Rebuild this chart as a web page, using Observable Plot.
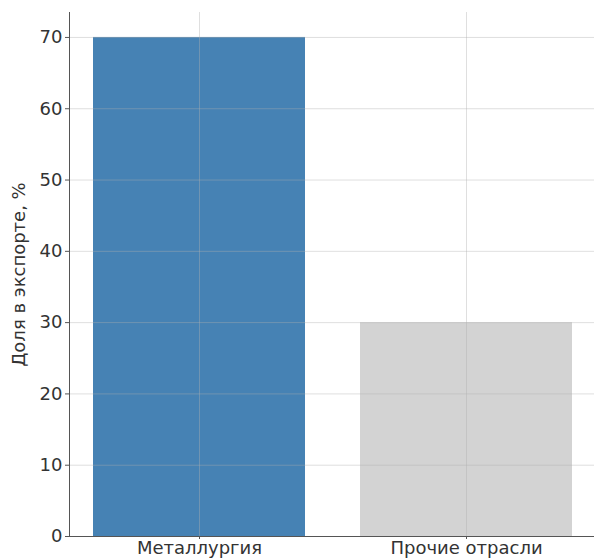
<!DOCTYPE html>
<html>
<head>
<meta charset="utf-8">
<script src="https://cdn.jsdelivr.net/npm/d3@7"></script>
<script src="https://cdn.jsdelivr.net/npm/@observablehq/plot@0.6"></script>
<style>
  html, body { margin: 0; padding: 0; background: #fff; }
  svg { display: block; }
</style>
</head>
<body>
<div id="chart"></div>
<script>
const categories = ["Металлургия", "Прочие отрасли"];
const shares = [70, 30];
const colors = ["#4682b4", "#d3d3d3"];
const yTicks = [0, 10, 20, 30, 40, 50, 60, 70];
const yLabel = "Доля в экспорте, %";

const data = categories.map((c, i) => ({category: c, share: shares[i], color: colors[i]}));

const chart = Plot.plot({
  width: 594,
  height: 560,
  marginLeft: 69,
  marginRight: -2,
  marginTop: 12,
  marginBottom: 24,
  style: {fontFamily: "DejaVu Sans, sans-serif", fontSize: "18px", color: "#333", background: "#fff"},
  x: {type: "band", domain: categories, paddingInner: 0.205, paddingOuter: 0.086, label: null},
  y: {domain: [0, 73.5], label: null},
  marks: [
    Plot.barY(data, {x: "category", y: "share", fill: "color"}),
    Plot.gridY(yTicks, {stroke: "#b0b0b0", strokeOpacity: 0.4, strokeWidth: 1}),
    Plot.gridX(categories, {stroke: "#b0b0b0", strokeOpacity: 0.4, strokeWidth: 1}),
    Plot.frame({anchor: "left", stroke: "#555"}),
    Plot.frame({anchor: "bottom", stroke: "#555"}),
    Plot.axisY({ticks: yTicks, tickSize: 4, tickPadding: 3, fontSize: 18, stroke: "#555",
      label: yLabel, labelAnchor: "center", labelArrow: "none", labelOffset: 57}),
    Plot.axisX({tickSize: 3, tickPadding: 2, fontSize: 18, stroke: "#555", label: null})
  ]
});
document.getElementById("chart").appendChild(chart);
</script>
</body>
</html>
